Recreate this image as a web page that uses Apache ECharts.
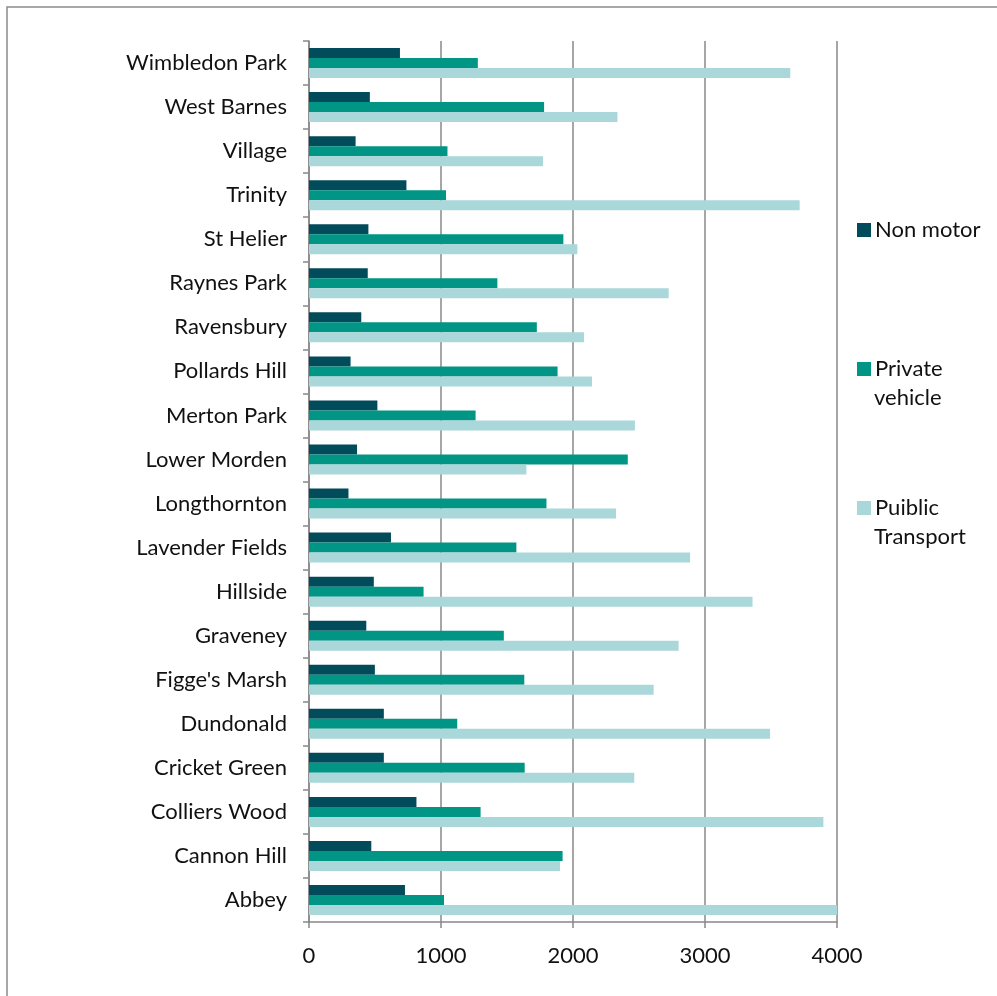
<!DOCTYPE html>
<html>
<head>
<meta charset="utf-8">
<script src="https://cdn.jsdelivr.net/npm/echarts@6/dist/echarts.min.js"></script>
<style>
  html, body { margin: 0; padding: 0; background: #fff; }
  #chart { width: 997px; height: 996px; }
</style>
</head>
<body>
<div id="chart"></div>
<script>
// wards, top to bottom as shown
var wards = ['Wimbledon Park', 'West Barnes', 'Village', 'Trinity', 'St Helier', 'Raynes Park',
    'Ravensbury', 'Pollards Hill', 'Merton Park', 'Lower Morden', 'Longthornton', 'Lavender Fields',
    'Hillside', 'Graveney', "Figge's Marsh", 'Dundonald', 'Cricket Green', 'Colliers Wood',
    'Cannon Hill', 'Abbey'];

var nonMotor = [689, 461, 353, 738, 450, 445, 396, 315, 518, 364, 299, 621,
    491, 434, 499, 567, 567, 814, 472, 727];
var privateVehicle = [1279, 1781, 1049, 1038, 1927, 1427, 1726, 1883, 1262, 2415, 1799, 1571,
    868, 1476, 1631, 1123, 1634, 1300, 1921, 1023];
var publicTransport = [3646, 2337, 1773, 3717, 2033, 2725, 2084, 2144, 2469, 1647, 2326, 2887,
    3360, 2800, 2611, 3493, 2464, 3897, 1902, 4000];

var xTicks = [0, 1000, 2000, 3000, 4000];

var colors = ['#024B5A', '#009585', '#AAD7DA'];
var font = 'Lato';

var chart = echarts.init(document.getElementById('chart'));

// one legend per series so the items can sit at their own heights
function legendFor(name, top) {
    return {
        orient: 'vertical',
        left: 852,
        top: top,
        itemWidth: 14,
        itemHeight: 14,
        itemGap: 0,
        icon: 'rect',
        data: [name],
        selectedMode: false,
        formatter: function (n) {
            return n === 'Non motor' ? n : n.split(' ')[0];
        },
        textStyle: { fontFamily: font, fontSize: 22, color: '#111', padding: [0, 0, 0, -1] }
    };
}

chart.setOption({
    animation: false,
    color: colors,
    graphic: [
        {
            type: 'rect',
            shape: { x: 7, y: 7, width: 1000, height: 1000 },
            style: { fill: 'none', stroke: '#8c8c8c', lineWidth: 1.5 },
            silent: true
        },
        {
            type: 'text', left: 874, top: 387,
            style: { text: 'vehicle', fontFamily: font, fontSize: 22, fill: '#111' }
        },
        {
            type: 'text', left: 874, top: 526,
            style: { text: 'Transport', fontFamily: font, fontSize: 22, fill: '#111' }
        }
    ],
    legend: [
        legendFor('Non motor', 214),
        legendFor('Private vehicle', 353),
        legendFor('Puiblic Transport', 492)
    ],
    grid: {
        left: 309,
        right: 160,
        top: 41,
        bottom: 74
    },
    xAxis: {
        type: 'value',
        min: 0,
        max: 4000,
        interval: 1000,
        axisLine: { show: true, lineStyle: { color: '#888', width: 1.5 } },
        axisTick: { show: true, length: 6, lineStyle: { color: '#888', width: 1.5 } },
        splitLine: { show: true, lineStyle: { color: '#888', width: 1.5 } },
        axisLabel: {
            margin: 23,
            fontFamily: font,
            fontSize: 22,
            color: '#111',
            formatter: function (v) {
                return xTicks.indexOf(v) >= 0 ? String(v) : '';
            }
        }
    },
    yAxis: {
        type: 'category',
        inverse: true,
        data: wards,
        axisLine: { show: true, lineStyle: { color: '#888', width: 1.5 } },
        axisTick: { show: true, length: 6, lineStyle: { color: '#888', width: 1.5 } },
        axisLabel: {
            margin: 22,
            fontFamily: font,
            fontSize: 22,
            color: '#111'
        }
    },
    series: [
        {
            name: 'Non motor',
            type: 'bar',
            data: nonMotor,
            barWidth: 10,
            barGap: '0%'
        },
        {
            name: 'Private vehicle',
            type: 'bar',
            data: privateVehicle,
            barWidth: 10,
            barGap: '0%'
        },
        {
            name: 'Puiblic Transport',
            type: 'bar',
            data: publicTransport,
            barWidth: 10,
            barGap: '0%'
        }
    ]
});
</script>
</body>
</html>
